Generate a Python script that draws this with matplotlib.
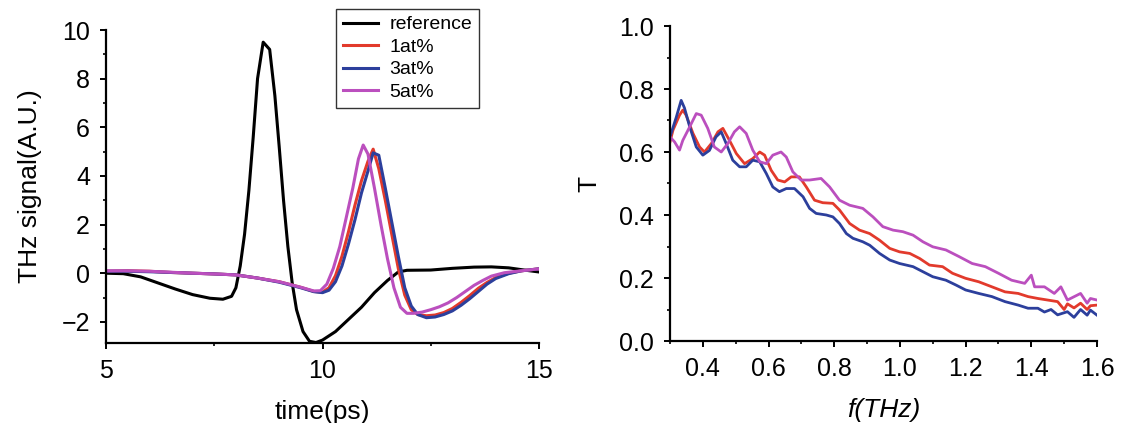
import matplotlib
matplotlib.use('Agg')
import matplotlib.pyplot as plt
from matplotlib.ticker import MultipleLocator

plt.rcParams['font.family'] = ['Liberation Sans', 'DejaVu Sans']

# ---- left panel: time domain signals ----
ref_t = [5.0, 5.4, 5.8, 6.2, 6.6, 7.0, 7.4, 7.7, 7.9, 8.0, 8.1, 8.2, 8.3, 8.4, 8.5,
         8.63, 8.78, 8.9, 9.0, 9.1, 9.2, 9.3, 9.4, 9.55, 9.7, 9.85, 10.0, 10.3, 10.6,
         10.9, 11.2, 11.5, 11.75, 11.95, 12.5, 13.0, 13.5, 13.9, 14.3, 14.7, 15.0]
ref_v = [0.0, -0.02, -0.15, -0.4, -0.65, -0.88, -1.03, -1.07, -0.95, -0.6, 0.3, 1.6,
         3.4, 5.6, 8.0, 9.5, 9.2, 7.3, 5.2, 3.0, 1.1, -0.4, -1.5, -2.4, -2.8, -2.85,
         -2.75, -2.4, -1.9, -1.4, -0.8, -0.3, 0.05, 0.12, 0.13, 0.2, 0.25, 0.26, 0.22,
         0.12, 0.05]

s_t = [5.0, 5.5, 6.0, 6.5, 7.0, 7.5, 8.0, 8.5, 9.0, 9.5, 9.8, 10.0, 10.15, 10.3,
       10.45, 10.6, 10.75, 10.9, 11.05, 11.17, 11.3, 11.45, 11.6, 11.75, 11.9, 12.05,
       12.2, 12.4, 12.6, 12.8, 13.0, 13.2, 13.4, 13.6, 13.8, 14.0, 14.3, 14.6, 15.0]
at1_v = [0.08, 0.1, 0.08, 0.03, 0.0, -0.03, -0.07, -0.2, -0.35, -0.58, -0.75, -0.78,
         -0.6, -0.1, 0.7, 1.7, 2.8, 3.8, 4.6, 5.1, 4.3, 3.0, 1.6, 0.2, -0.9, -1.5,
         -1.7, -1.75, -1.72, -1.62, -1.45, -1.2, -0.92, -0.62, -0.38, -0.18, 0.0,
         0.1, 0.18]
at3_v = [0.08, 0.08, 0.06, 0.03, 0.0, -0.03, -0.07, -0.2, -0.37, -0.6, -0.76, -0.8,
         -0.7, -0.35, 0.3, 1.2, 2.2, 3.3, 4.2, 4.95, 4.85, 3.5, 2.1, 0.7, -0.6, -1.35,
         -1.7, -1.83, -1.8, -1.7, -1.55, -1.32, -1.05, -0.75, -0.45, -0.22, -0.02,
         0.1, 0.18]

at5_t = [5.0, 5.5, 6.0, 6.5, 7.0, 7.5, 8.0, 8.5, 9.0, 9.5, 9.8, 9.95, 10.1, 10.25,
         10.4, 10.55, 10.7, 10.83, 10.94, 11.05, 11.2, 11.35, 11.5, 11.65, 11.8,
         11.95, 12.1, 12.3, 12.5, 12.7, 12.9, 13.1, 13.3, 13.5, 13.7, 13.9, 14.2,
         14.6, 15.0]
at5_v = [0.1, 0.1, 0.08, 0.04, 0.0, -0.03, -0.07, -0.2, -0.35, -0.58, -0.73, -0.72,
         -0.45, 0.2, 1.1, 2.3, 3.5, 4.7, 5.27, 4.9, 3.5, 2.0, 0.6, -0.6, -1.4, -1.65,
         -1.65, -1.6, -1.5, -1.38, -1.22, -1.0, -0.75, -0.5, -0.3, -0.12, 0.02, 0.1,
         0.18]

# ---- right panel: transmission spectra ----
f_3 = [0.3, 0.319, 0.334, 0.344, 0.36, 0.38, 0.40, 0.42, 0.44, 0.456, 0.471, 0.491,
       0.512, 0.532, 0.552, 0.573, 0.593, 0.613, 0.633, 0.654, 0.679, 0.705, 0.725,
       0.745, 0.776, 0.796, 0.816, 0.837, 0.857, 0.887, 0.908, 0.938, 0.969, 0.999,
       1.04, 1.07, 1.1, 1.14, 1.17, 1.2, 1.24, 1.28, 1.32, 1.36, 1.39, 1.42, 1.44,
       1.46, 1.48, 1.51, 1.53, 1.55, 1.57, 1.58, 1.6]
T_3 = [0.648, 0.71, 0.764, 0.74, 0.68, 0.616, 0.59, 0.605, 0.648, 0.664, 0.627,
       0.574, 0.553, 0.553, 0.574, 0.569, 0.532, 0.489, 0.474, 0.484, 0.484, 0.458,
       0.421, 0.405, 0.4, 0.394, 0.373, 0.341, 0.326, 0.315, 0.304, 0.278, 0.257,
       0.246, 0.236, 0.22, 0.204, 0.193, 0.178, 0.162, 0.151, 0.141, 0.125, 0.114,
       0.104, 0.104, 0.092, 0.1, 0.083, 0.093, 0.075, 0.1, 0.082, 0.098, 0.082]

f_1 = [0.3, 0.309, 0.329, 0.339, 0.349, 0.37, 0.39, 0.405, 0.426, 0.446, 0.461,
       0.481, 0.502, 0.527, 0.552, 0.573, 0.588, 0.608, 0.628, 0.649, 0.669, 0.694,
       0.715, 0.74, 0.765, 0.796, 0.816, 0.847, 0.877, 0.908, 0.938, 0.969, 0.999,
       1.03, 1.06, 1.09, 1.13, 1.16, 1.2, 1.24, 1.28, 1.32, 1.36, 1.39, 1.42, 1.45,
       1.48, 1.5, 1.51, 1.53, 1.55, 1.57, 1.58, 1.6]
T_1 = [0.632, 0.669, 0.717, 0.733, 0.717, 0.659, 0.616, 0.6, 0.627, 0.664, 0.675,
       0.637, 0.595, 0.563, 0.579, 0.6, 0.59, 0.542, 0.511, 0.505, 0.521, 0.521,
       0.489, 0.447, 0.439, 0.437, 0.416, 0.373, 0.352, 0.341, 0.32, 0.294, 0.283,
       0.278, 0.262, 0.241, 0.236, 0.215, 0.199, 0.188, 0.172, 0.156, 0.151, 0.141,
       0.135, 0.13, 0.125, 0.1, 0.118, 0.105, 0.12, 0.1, 0.112, 0.114]

f_5 = [0.3, 0.314, 0.329, 0.339, 0.36, 0.38, 0.395, 0.415, 0.435, 0.456, 0.476,
       0.496, 0.512, 0.532, 0.552, 0.573, 0.593, 0.613, 0.638, 0.654, 0.674, 0.699,
       0.725, 0.76, 0.786, 0.816, 0.847, 0.887, 0.918, 0.948, 0.979, 1.009, 1.04,
       1.07, 1.1, 1.14, 1.18, 1.22, 1.26, 1.3, 1.34, 1.38, 1.4, 1.41, 1.44, 1.47,
       1.49, 1.51, 1.55, 1.57, 1.58, 1.6]
T_5 = [0.648, 0.632, 0.606, 0.637, 0.68, 0.722, 0.717, 0.675, 0.616, 0.6, 0.627,
       0.664, 0.68, 0.659, 0.606, 0.569, 0.563, 0.59, 0.6, 0.584, 0.537, 0.511,
       0.511, 0.516, 0.489, 0.447, 0.431, 0.421, 0.394, 0.363, 0.352, 0.347, 0.336,
       0.315, 0.299, 0.289, 0.268, 0.246, 0.236, 0.215, 0.193, 0.183, 0.209, 0.172,
       0.172, 0.151, 0.172, 0.13, 0.151, 0.12, 0.135, 0.13]

c_ref = 'black'
c_1 = '#e23a2c'
c_3 = '#2c3f9c'
c_5 = '#bb4fbe'

fig = plt.figure(figsize=(11.33, 4.23), dpi=100)

ax1 = fig.add_axes([106 / 1133, 1 - 343 / 423, 433 / 1133, 313 / 423])
ax2 = fig.add_axes([670 / 1133, 1 - 341 / 423, 427 / 1133, 315 / 423])

lw = 2.2
ax1.plot(ref_t, ref_v, color=c_ref, lw=lw, label='reference')
ax1.plot(s_t, at1_v, color=c_1, lw=lw, label='1at%')
ax1.plot(s_t, at3_v, color=c_3, lw=lw, label='3at%')
ax1.plot(at5_t, at5_v, color=c_5, lw=lw, label='5at%')
ax1.set_xlim(5, 15)
ax1.set_ylim(-2.87, 10)
ax1.xaxis.set_major_locator(MultipleLocator(5))
ax1.xaxis.set_minor_locator(MultipleLocator(2.5))
ax1.yaxis.set_minor_locator(MultipleLocator(1))
ax1.set_yticks([-2, 0, 2, 4, 6, 8, 10])
ax1.set_yticklabels(['\u22122', '0', '2', '4', '6', '8', '10'])
ax1.set_xlabel('time(ps)', fontsize=19, labelpad=12)
ax1.set_ylabel('THz signal(A.U.)', fontsize=19, labelpad=14)

lw2 = 2.0
ax2.plot(f_1, T_1, color=c_1, lw=lw2)
ax2.plot(f_3, T_3, color=c_3, lw=lw2)
ax2.plot(f_5, T_5, color=c_5, lw=lw2)
ax2.set_xlim(0.3, 1.6)
ax2.set_ylim(0, 1.0)
ax2.xaxis.set_minor_locator(MultipleLocator(0.1))
ax2.set_xticks([0.4, 0.6, 0.8, 1.0, 1.2, 1.4, 1.6])
ax2.yaxis.set_major_locator(MultipleLocator(0.2))
ax2.yaxis.set_minor_locator(MultipleLocator(0.1))
ax2.xaxis.set_major_formatter(plt.FormatStrFormatter('%.1f'))
ax2.yaxis.set_major_formatter(plt.FormatStrFormatter('%.1f'))
ax2.set_xlabel('f(THz)', fontsize=19, style='italic', labelpad=12)
ax2.set_ylabel('T', fontsize=19, labelpad=13)

for ax in (ax1, ax2):
    for s in ('top', 'right'):
        ax.spines[s].set_visible(False)
    for s in ('left', 'bottom'):
        ax.spines[s].set_linewidth(1.6)
    ax.tick_params(which='major', direction='out', length=4.5, width=1.4,
                   labelsize=18, pad=7)
    ax.tick_params(which='minor', direction='out', length=2.5, width=1.2)

leg = ax1.legend(loc='upper left', bbox_to_anchor=(336 / 1133, 1 - 9 / 423),
                 bbox_transform=fig.transFigure, borderaxespad=0, fontsize=14,
                 frameon=True, fancybox=False, handlelength=1.8, handletextpad=0.6,
                 labelspacing=0.25, borderpad=0.35)
leg.get_frame().set_edgecolor('black')
leg.get_frame().set_linewidth(1.0)

fig.savefig('out.png', dpi=100)
